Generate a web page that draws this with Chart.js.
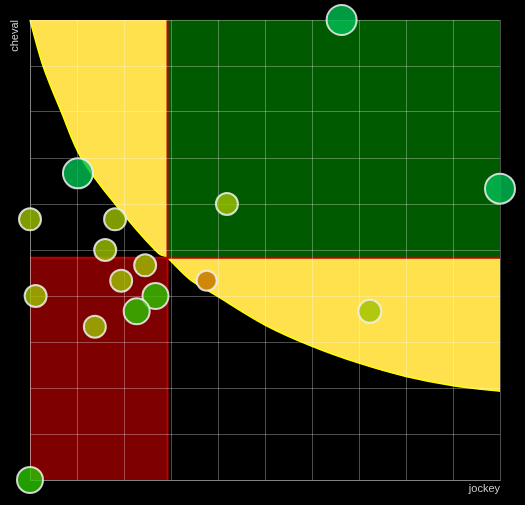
<!DOCTYPE html>
<html>
<head>
<meta charset="utf-8">
<script src="https://cdn.jsdelivr.net/npm/chart.js@4/dist/chart.umd.min.js"></script>
<style>
html,body{margin:0;padding:0;background:#000;}
canvas{display:block;}
</style>
</head>
<body>
<canvas id="c" width="525" height="505"></canvas>
<script>
// Data
const jockey = [6.63, 1.02, 0, 1.81, 1.60, 2.45, 1.94, 0.12, 2.67, 2.27, 1.38, 0, 4.19, 3.76, 10, 7.23];
const cheval = [30, 20, 17, 17, 15, 14, 13, 12, 12, 11, 10, 0, 18, 13, 19, 11];
const sizes  = [15, 15, 11, 11, 11, 11, 11, 11, 13, 13, 11, 13, 11, 10, 15, 11.5];
const groups = ['g','g','o','o','o','o','o','o','l','l','o','l','o','r','g','o'];
const groupColors = {
  g: 'rgba(0,192,84,0.8)',
  o: 'rgba(158,194,0,0.8)',
  l: 'rgba(42,196,0,0.8)',
  r: 'rgba(200,120,0,0.85)'
};
// Threshold lines
const jockeyThreshold = 2.926;
const chevalThreshold = 14.5;
// Boundary curve (jockey, cheval)
const curveJockey = [0, 0.277, 0.667, 1.09, 1.81, 2.66, 2.926, 3.4, 4, 5, 6, 7, 8, 9, 10];
const curveCheval = [30, 27, 24, 21, 18, 15, 14.48, 13.09, 11.96, 10.11, 8.72, 7.62, 6.75, 6.15, 5.79];
// Axis
const xMin = 0, xMax = 10, xStep = 1;
const yMin = 0, yMax = 30, yStep = 3;

const points = jockey.map((x, i) => ({x: x, y: cheval[i], r: sizes[i]}));

function smoothPath(ctx, pts, moveFirst) {
  if (moveFirst) ctx.moveTo(pts[0][0], pts[0][1]); else ctx.lineTo(pts[0][0], pts[0][1]);
  for (let i = 0; i < pts.length - 1; i++) {
    const p0 = pts[Math.max(0, i - 1)], p1 = pts[i], p2 = pts[i + 1], p3 = pts[Math.min(pts.length - 1, i + 2)];
    const c1x = p1[0] + (p2[0] - p0[0]) / 6, c1y = p1[1] + (p2[1] - p0[1]) / 6;
    const c2x = p2[0] - (p3[0] - p1[0]) / 6, c2y = p2[1] - (p3[1] - p1[1]) / 6;
    ctx.bezierCurveTo(c1x, c1y, c2x, c2y, p2[0], p2[1]);
  }
}

const zones = {
  id: 'zones',
  beforeDraw(chart) {
    const ctx = chart.ctx, xs = chart.scales.x, ys = chart.scales.y;
    const X = v => xs.getPixelForValue(v), Y = v => ys.getPixelForValue(v);
    ctx.save();
    ctx.fillStyle = '#000';
    ctx.fillRect(0, 0, chart.width, chart.height);
    const pts = curveJockey.map((v, i) => [X(v), Y(curveCheval[i])]);
    // yellow: above the curve
    ctx.beginPath();
    smoothPath(ctx, pts, true);
    ctx.lineTo(X(xMax), Y(yMax));
    ctx.lineTo(X(xMin), Y(yMax));
    ctx.closePath();
    ctx.fillStyle = '#ffe14d';
    ctx.fill();
    // green zone
    ctx.fillStyle = '#005a00';
    ctx.fillRect(X(jockeyThreshold), Y(yMax), X(xMax) - X(jockeyThreshold), Y(chevalThreshold) - Y(yMax));
    // red zone
    ctx.fillStyle = '#7f0000';
    ctx.fillRect(X(xMin), Y(chevalThreshold), X(jockeyThreshold) - X(xMin), Y(yMin) - Y(chevalThreshold));
    // curve edge
    ctx.beginPath();
    smoothPath(ctx, pts, true);
    ctx.strokeStyle = '#ffff00';
    ctx.lineWidth = 1.5;
    ctx.stroke();
    // red threshold lines
    ctx.strokeStyle = '#c00000';
    ctx.lineWidth = 2;
    ctx.beginPath();
    ctx.moveTo(X(jockeyThreshold), Y(yMin));
    ctx.lineTo(X(jockeyThreshold), Y(yMax));
    ctx.moveTo(X(xMin), Y(chevalThreshold));
    ctx.lineTo(X(xMax), Y(chevalThreshold));
    ctx.stroke();
    ctx.restore();
  }
};

const gridColor = 'rgba(255,255,255,0.3)';
const titleFont = {family: '"Liberation Sans", Arial, sans-serif', size: 11};

new Chart(document.getElementById('c'), {
  type: 'bubble',
  data: {
    datasets: [{
      data: points,
      backgroundColor: groups.map(g => groupColors[g]),
      borderColor: 'rgba(240,240,240,0.85)',
      borderWidth: 2,
      hoverBorderWidth: 2,
      clip: false
    }]
  },
  options: {
    responsive: false,
    animation: false,
    devicePixelRatio: 1,
    layout: {padding: {top: 20, right: 25, left: 0, bottom: 0}},
    plugins: {legend: {display: false}, tooltip: {enabled: false}},
    scales: {
      x: {
        type: 'linear', min: xMin, max: xMax,
        ticks: {display: false, stepSize: xStep},
        grid: {color: gridColor, drawTicks: false, lineWidth: 1},
        border: {color: gridColor},
        title: {display: true, text: 'jockey', align: 'end', color: '#cccccc', font: titleFont, padding: {top: 4, bottom: 9}},
        afterFit: s => { s.height = 25; }
      },
      y: {
        type: 'linear', min: yMin, max: yMax,
        ticks: {display: false, stepSize: yStep},
        grid: {color: gridColor, drawTicks: false, lineWidth: 1},
        border: {color: gridColor},
        title: {display: true, text: 'cheval', align: 'end', color: '#cccccc', font: titleFont, padding: {top: 8, bottom: 4}},
        afterFit: s => { s.width = 30; }
      }
    }
  },
  plugins: [zones]
});
</script>
</body>
</html>
